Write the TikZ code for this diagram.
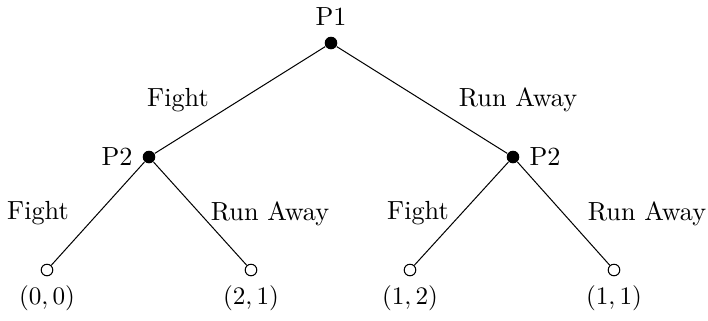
\documentclass[tikz,border=0pt]{standalone}
\begin{document}
\begin{tikzpicture}[x=0.397pt,y=-0.397pt,
  dec/.style={circle,fill=black,inner sep=0pt,minimum size=5pt},
  term/.style={circle,draw=black,fill=white,inner sep=0pt,minimum size=4.6pt,line width=0.4pt},
  lbl/.style={inner sep=0pt,font=\fontsize{10.4}{12.5}\selectfont},
  edge/.style={line width=0.4pt}]
\useasboundingbox (0,0) rectangle (708,320);
\node[dec] (r) at (331,43) {};
\node[dec] (a) at (149,157) {};
\node[dec] (b) at (513,157) {};
\node[term] (l1) at (47,270) {};
\node[term] (l2) at (251,270) {};
\node[term] (l3) at (410,270) {};
\node[term] (l4) at (614,270) {};
\draw[edge] (r) -- (a);
\draw[edge] (r) -- (b);
\draw[edge] (a) -- (l1);
\draw[edge] (a) -- (l2);
\draw[edge] (b) -- (l3);
\draw[edge] (b) -- (l4);
\node[lbl] (p1) at (331,17) {P1};
\node[lbl] (p2a) at (117,157) {P2};
\node[lbl] (p2b) at (545,157) {P2};
\node[lbl] (e1) at (178,100) {Fight};
\node[lbl] (e2) at (518,100) {Run Away};
\node[lbl] (e3) at (38,213) {Fight};
\node[lbl] (e4) at (270,214) {Run Away};
\node[lbl] (e5) at (418,213) {Fight};
\node[lbl] (e6) at (647,214) {Run Away};
\node[lbl] (v1) at (47,298) {$(0,0)$};
\node[lbl] (v2) at (251,298) {$(2,1)$};
\node[lbl] (v3) at (410,298) {$(1,2)$};
\node[lbl] (v4) at (614,298) {$(1,1)$};
\end{tikzpicture}
\end{document}
